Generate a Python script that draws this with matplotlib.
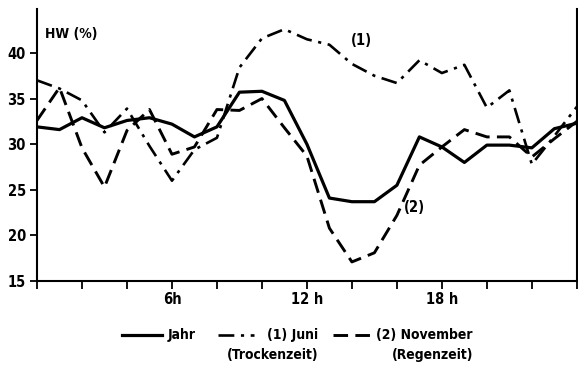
import matplotlib.pyplot as plt
from matplotlib.lines import Line2D

hours = list(range(25))

jahr = [31.9, 31.6, 32.9, 31.8, 32.6, 32.9, 32.2, 30.8, 31.9, 35.7, 35.8, 34.8, 30.0,
        24.1, 23.7, 23.7, 25.5, 30.8, 29.7, 28.0, 29.9, 29.9, 29.6, 31.7, 32.3]
juni = [37.0, 36.1, 34.8, 31.3, 33.9, 29.8, 26.0, 29.4, 30.7, 38.4, 41.6, 42.6, 41.5,
        40.9, 38.8, 37.5, 36.7, 39.2, 37.8, 38.7, 34.0, 35.9, 27.8, 30.9, 34.1]
november = [32.6, 36.2, 29.6, 25.3, 31.5, 33.8, 28.9, 29.7, 33.8, 33.7, 35.0, 31.8, 28.7,
            20.8, 17.1, 18.1, 22.2, 27.7, 29.7, 31.6, 30.8, 30.8, 28.6, 30.6, 32.5]

y_ticks = [15, 20, 25, 30, 35, 40]
x_ticks = list(range(0, 25, 2))
x_labels = {6: '6h', 12: '12 h', 18: '18 h'}

plt.rcParams['font.family'] = ['DejaVu Sans']
plt.rcParams['font.weight'] = 'bold'
plt.rcParams['font.stretch'] = 'condensed'

fig = plt.figure(figsize=(5.78, 3.66), dpi=100)
ax = fig.add_axes([0.064, 0.232, 0.934, 0.743])

solid = dict(color='black', linewidth=2.3, linestyle='-')
dashdot = dict(color='black', linewidth=1.9, linestyle=(0, (6, 2.5, 1.2, 2.5)))
dashed = dict(color='black', linewidth=2.1, linestyle=(0, (5, 2.5)))

ax.plot(hours, jahr, **solid)
ax.plot(hours, juni, **dashdot)
ax.plot(hours, november, **dashed)

ax.set_xlim(0, 24)
ax.set_ylim(15, 44.8)
ax.set_yticks(y_ticks)
ax.set_xticks(x_ticks)
ax.set_xticklabels([x_labels.get(h, '') for h in x_ticks])
ax.tick_params(axis='both', direction='out', length=5, width=1.3,
               labelsize=10.5, pad=3)
ax.tick_params(axis='x', length=6, pad=2)
ax.spines['top'].set_visible(False)
for side in ['left', 'right', 'bottom']:
    ax.spines[side].set_linewidth(1.5)

ax.text(0.35, 42.1, 'HW (%)', fontsize=10, va='center')
ax.text(13.95, 41.4, '(1)', fontsize=10.5, va='center')
ax.text(16.3, 23.1, '(2)', fontsize=10.5, va='center')

# legend drawn by hand beneath the axes
px = lambda x: x / 578
py = lambda y: 1 - y / 366
entries = [
    (solid, 122, 162, 'Jahr', None, 168, 'left'),
    (dashdot, 218, 254, '(1) Juni', '(Trockenzeit)', 318, 'right'),
    (dashed, 333, 371, '(2) November', '(Regenzeit)', 473, 'right'),
]
for style, x0, x1, line1, line2, tx, ha in entries:
    fig.add_artist(Line2D([px(x0), px(x1)], [py(335), py(335)],
                          transform=fig.transFigure, **style))
    fig.text(px(tx), py(335), line1, ha=ha, va='center', fontsize=10)
    if line2:
        fig.text(px(tx), py(355), line2, ha=ha, va='center', fontsize=10)

fig.savefig('out.png', dpi=100)
